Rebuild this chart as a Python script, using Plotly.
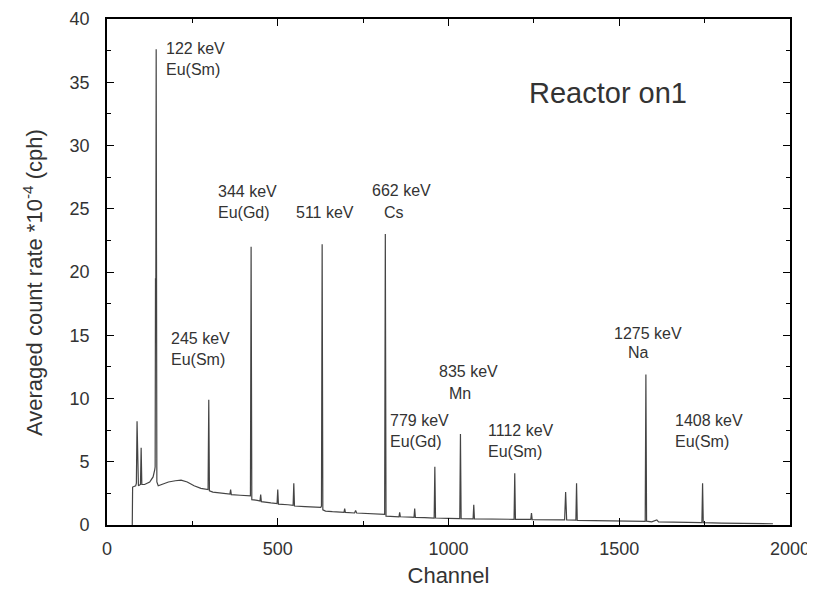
import plotly.graph_objects as go

# Spectrum: channel and averaged count rate (*10^-4 cph)
channel = [74, 75, 84, 86, 88, 90, 92, 98, 100, 102, 110, 125, 135, 140, 141, 142, 143, 144, 145, 146,
           150, 160, 180, 200, 217, 235, 255, 275, 291, 296, 298, 300, 310, 340, 360, 362, 364, 390,
           418, 420, 422, 424, 440, 448, 450, 452, 480, 498, 500, 502, 530, 545, 547, 549, 580, 610,
           626, 628, 630, 632, 640, 660, 694, 696, 698, 725, 728, 731, 760, 800, 813, 815, 817, 830,
           855, 857, 859, 890, 899, 901, 903, 930, 958, 960, 962, 1000, 1033, 1035, 1037, 1072, 1074,
           1076, 1120, 1192, 1194, 1196, 1241, 1243, 1245, 1300, 1340, 1343, 1346, 1373, 1375, 1377,
           1420, 1480, 1540, 1576, 1578, 1580, 1595, 1610, 1615, 1680, 1742, 1744, 1746, 1800, 1900, 1950]
rate = [0.0, 3.0, 3.1, 3.3, 8.2, 3.4, 3.1, 3.2, 6.1, 3.2, 3.2, 3.4, 3.8, 4.4, 4.6, 19.5, 19.0, 37.6, 6.0, 3.4,
        3.1, 3.2, 3.4, 3.5, 3.55, 3.4, 3.1, 2.9, 2.8, 2.8, 9.9, 2.7, 2.6, 2.5, 2.45, 2.8, 2.4, 2.35,
        2.3, 2.3, 22.0, 2.0, 1.95, 1.9, 2.4, 1.85, 1.75, 1.7, 2.8, 1.65, 1.6, 1.55, 3.3, 1.5, 1.45, 1.4,
        1.4, 1.5, 22.2, 1.2, 1.1, 1.05, 1.0, 1.3, 1.0, 0.95, 1.15, 0.95, 0.9, 0.85, 0.85, 23.0, 0.7, 0.68,
        0.65, 1.0, 0.65, 0.62, 0.6, 1.3, 0.6, 0.58, 0.55, 4.6, 0.55, 0.52, 0.5, 7.2, 0.5, 0.48, 1.6,
        0.48, 0.47, 0.45, 4.1, 0.45, 0.45, 0.95, 0.43, 0.42, 0.4, 2.6, 0.4, 0.38, 3.3, 0.36,
        0.33, 0.3, 0.28, 0.28, 11.9, 0.3, 0.25, 0.4, 0.25, 0.2, 0.18, 3.3, 0.18, 0.15, 0.12, 0.1]

# Peak labels: text, channel, rate (top-left anchor)
label_text = ["122 keV<br>Eu(Sm)", "245 keV<br>Eu(Sm)", "344 keV<br>Eu(Gd)", "511 keV",
              "662 keV", "Cs", "835 keV", "Mn", "779 keV<br>Eu(Gd)", "1112 keV<br>Eu(Sm)",
              "1275 keV", "Na", "1408 keV<br>Eu(Sm)"]
label_x = [168, 182, 319, 549, 769, 804, 965, 995, 823, 1111, 1480, 1519, 1658]
label_y = [38.5, 15.6, 27.2, 25.5, 27.3, 25.5, 13.0, 11.2, 9.1, 8.3, 16.0, 14.5, 9.1]

FONT = "Liberation Sans, Arial, sans-serif"
TXT = "#333333"

fig = go.Figure()
fig.add_trace(go.Scatter(x=channel, y=rate, mode="lines",
                         line=dict(color="#444444", width=1.2), showlegend=False,
                         hoverinfo="x+y"))

for t, x, y in zip(label_text, label_x, label_y):
    fig.add_annotation(x=x, y=y, xref="x", yref="y", text=t, showarrow=False,
                       xanchor="left", yanchor="top", align="left",
                       font=dict(family=FONT, size=16, color=TXT))

fig.add_annotation(x=1230, y=35.6, xref="x", yref="y", text="Reactor on1", showarrow=False,
                   xanchor="left", yanchor="top", font=dict(family=FONT, size=29, color=TXT))

# y-axis title placed as a rotated annotation, centred on the plot height
fig.add_annotation(x=0, y=0.5, xref="paper", yref="paper", xshift=-74, yshift=-11,
                   text="Averaged count rate *10<sup>-4</sup> (cph)", textangle=-90,
                   showarrow=False, xanchor="center", yanchor="middle",
                   font=dict(family=FONT, size=22, color=TXT))

axis_common = dict(showline=True, linecolor="black", linewidth=1.6, mirror="ticks",
                   ticks="inside", ticklen=7, tickwidth=1.3, tickcolor="black",
                   showgrid=False, zeroline=False,
                   tickfont=dict(family=FONT, size=18, color=TXT))

fig.update_xaxes(range=[0, 2000], dtick=500, tick0=0,
                 minor=dict(dtick=250, ticks="inside", ticklen=4, tickcolor="black", showgrid=False),
                 title=dict(text="Channel", font=dict(family=FONT, size=22, color=TXT), standoff=9),
                 ticklabelstandoff=7, **axis_common)
fig.update_yaxes(range=[0, 40], dtick=5, tick0=0,
                 minor=dict(dtick=2.5, ticks="inside", ticklen=4, tickcolor="black", showgrid=False),
                 ticklabelstandoff=12, **axis_common)

# The page body adds an 8 px margin, so the figure is 8 px smaller each way
fig.update_layout(width=807, height=595, margin=dict(l=99, r=25, t=11, b=78, autoexpand=False),
                  plot_bgcolor="white", paper_bgcolor="white",
                  font=dict(family=FONT, color=TXT))
fig.write_html("out.html")
